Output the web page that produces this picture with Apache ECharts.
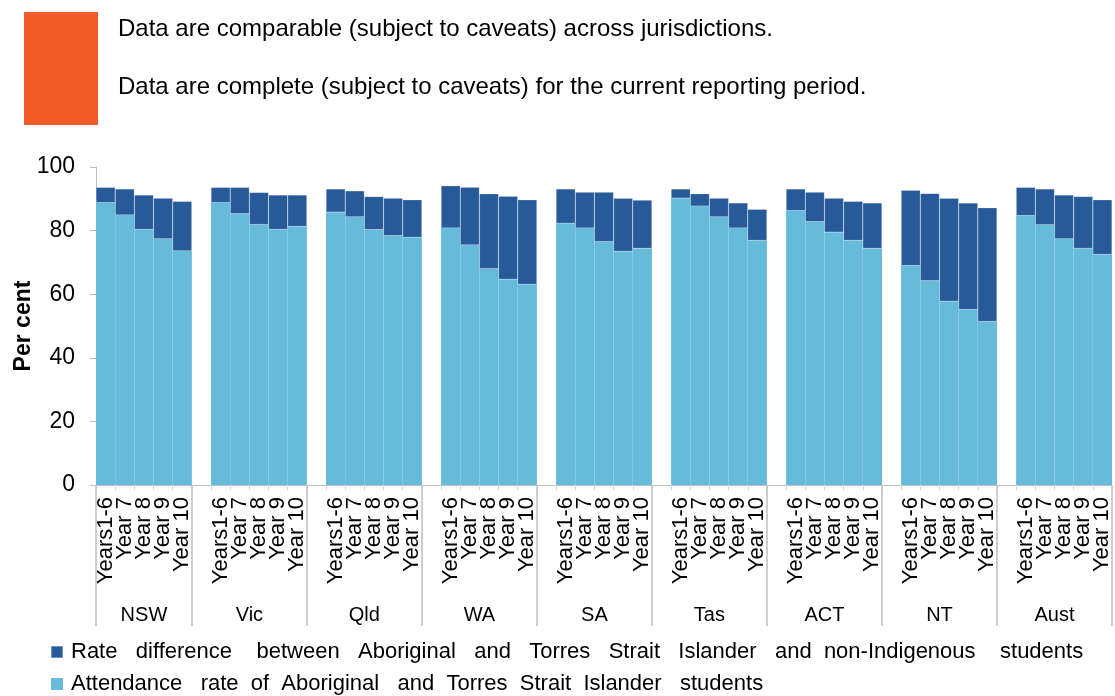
<!DOCTYPE html>
<html>
<head>
<meta charset="utf-8">
<script src="https://cdn.jsdelivr.net/npm/echarts@6/dist/echarts.min.js"></script>
<style>
  html, body { margin: 0; padding: 0; background: #ffffff; }
  #chart { width: 1115px; height: 696px; }
</style>
</head>
<body>
<div id="chart"></div>
<script>
// Jurisdictions and year levels shown along the x axis
const jurisdictions = ['NSW', 'Vic', 'Qld', 'WA', 'SA', 'Tas', 'ACT', 'NT', 'Aust'];
const yearLevels = ['Years1-6', 'Year 7', 'Year 8', 'Year 9', 'Year 10'];
const yTicks = [0, 20, 40, 60, 80, 100];

// Attendance rate of Aboriginal and Torres Strait Islander students (%)
const attendanceNSW  = [88.8, 84.9, 80.4, 77.4, 73.6];
const attendanceVic  = [88.8, 85.3, 81.9, 80.4, 81.3];
const attendanceQld  = [85.8, 84.3, 80.3, 78.4, 77.9];
const attendanceWA   = [80.8, 75.5, 68.0, 64.7, 63.1];
const attendanceSA   = [82.3, 80.8, 76.5, 73.5, 74.4];
const attendanceTas  = [90.2, 87.7, 84.3, 80.8, 76.9];
const attendanceACT  = [86.3, 82.8, 79.5, 76.9, 74.4];
const attendanceNT   = [69.0, 64.2, 57.8, 55.2, 51.4];
const attendanceAust = [84.7, 81.8, 77.4, 74.4, 72.5];

// Rate difference to non-Indigenous students (percentage points)
const differenceNSW  = [4.8, 8.2, 10.8, 12.8, 15.6];
const differenceVic  = [4.8, 8.3, 10.1, 10.8, 9.9];
const differenceQld  = [7.3, 8.2, 10.4, 11.8, 11.8];
const differenceWA   = [13.3, 18.1, 23.6, 26.1, 26.6];
const differenceSA   = [10.8, 11.3, 15.6, 16.7, 15.2];
const differenceTas  = [2.9, 3.9, 5.9, 7.9, 9.8];
const differenceACT  = [6.8, 9.3, 10.7, 12.3, 14.3];
const differenceNT   = [23.7, 27.5, 32.4, 33.5, 35.8];
const differenceAust = [8.9, 11.3, 13.8, 16.3, 17.2];

const attendanceByJur = [attendanceNSW, attendanceVic, attendanceQld, attendanceWA, attendanceSA,
  attendanceTas, attendanceACT, attendanceNT, attendanceAust];
const differenceByJur = [differenceNSW, differenceVic, differenceQld, differenceWA, differenceSA,
  differenceTas, differenceACT, differenceNT, differenceAust];

const seriesNames = [
  'Rate   difference    between   Aboriginal   and   Torres   Strait   Islander   and  non-Indigenous    students',
  'Attendance   rate  of  Aboriginal   and  Torres  Strait  Islander   students'
];

// Flatten groups into one category list, with an empty slot before every group after the first
const categories = [];
const attendanceData = [];
const differenceData = [];
const groupBounds = []; // [start, end] in category units
jurisdictions.forEach((j, g) => {
  const start = categories.length;
  if (g > 0) { categories.push(''); attendanceData.push('-'); differenceData.push('-'); }
  yearLevels.forEach((y, k) => {
    categories.push(y);
    attendanceData.push(attendanceByJur[g][k]);
    differenceData.push(differenceByJur[g][k]);
  });
  groupBounds.push([start, categories.length]);
});

// Half-unit axis used for jurisdiction names and group separators
const nUnits = categories.length;
const halfCats = new Array(2 * nUnits + 1).fill('');
const separatorIdx = new Set();
groupBounds.forEach(([s, e], g) => {
  halfCats[s + e] = jurisdictions[g];
  separatorIdx.add(2 * s);
  separatorIdx.add(2 * e);
});

const FONT = 'Liberation Sans, Arial, sans-serif';
const AXIS_GREY = '#BFBFBF';
const DARK = '#285A99';
const LIGHT = '#67BBDA';

const chart = echarts.init(document.getElementById('chart'), null, { renderer: 'canvas' });
chart.setOption({
  animation: false,
  backgroundColor: '#ffffff',
  textStyle: { fontFamily: FONT, color: '#000' },
  graphic: [
    { type: 'rect', shape: { x: 24, y: 12, width: 74, height: 113 }, style: { fill: '#F15A29' } },
    { type: 'text', x: 118, y: 29, style: { text: 'Data are comparable (subject to caveats) across jurisdictions.',
        font: '24px ' + FONT, fill: '#000', textVerticalAlign: 'middle' } },
    { type: 'text', x: 118, y: 87, style: { text: 'Data are complete (subject to caveats) for the current reporting period.',
        font: '24px ' + FONT, fill: '#000', textVerticalAlign: 'middle' } }
  ],
  legend: {
    orient: 'vertical',
    left: 50,
    top: 641,
    padding: 0,
    itemWidth: 12,
    itemHeight: 12,
    itemGap: 10,
    icon: 'rect',
    data: seriesNames,
    textStyle: { fontFamily: FONT, fontSize: 22, color: '#000', lineHeight: 22, padding: [0, 0, 0, 3] }
  },
  grid: { left: 96, right: 3, top: 167, bottom: 211, containLabel: false, outerBoundsMode: 'none' },
  xAxis: [
    {
      type: 'category',
      data: categories,
      axisLine: { lineStyle: { color: AXIS_GREY, width: 1 } },
      axisTick: { show: true, length: 5, lineStyle: { color: '#D9D9D9' } },
      axisLabel: { interval: 0, rotate: 90, fontSize: 22, margin: 12, color: '#000', fontFamily: FONT }
    },
    {
      type: 'category',
      position: 'bottom',
      boundaryGap: false,
      data: halfCats,
      axisLine: { show: false },
      axisTick: { show: true, length: 141, interval: (i) => separatorIdx.has(i), lineStyle: { color: AXIS_GREY, width: 1.5 } },
      axisLabel: { interval: 0, fontSize: 20, margin: 120, color: '#000', fontFamily: FONT }
    }
  ],
  yAxis: {
    type: 'value',
    min: yTicks[0],
    max: yTicks[yTicks.length - 1],
    interval: 20,
    name: 'Per cent',
    nameLocation: 'middle',
    nameGap: 61,
    nameMoveOverlap: false,
    nameTextStyle: { fontSize: 23, fontWeight: 'bold', color: '#000', fontFamily: FONT },
    axisLine: { show: true, lineStyle: { color: AXIS_GREY } },
    axisTick: { show: true, length: 6, lineStyle: { color: AXIS_GREY } },
    splitLine: { show: false },
    axisLabel: { fontSize: 23, margin: 21, color: '#000', fontFamily: FONT }
  },
  series: [
    {
      name: seriesNames[1],
      type: 'bar',
      stack: 'total',
      data: attendanceData,
      barCategoryGap: '0%',
      itemStyle: { color: LIGHT }
    },
    {
      name: seriesNames[0],
      type: 'bar',
      stack: 'total',
      data: differenceData,
      barCategoryGap: '0%',
      itemStyle: { color: DARK, borderColor: 'rgba(255,255,255,0.35)', borderWidth: 0.5 }
    }
  ]
});
</script>
</body>
</html>
